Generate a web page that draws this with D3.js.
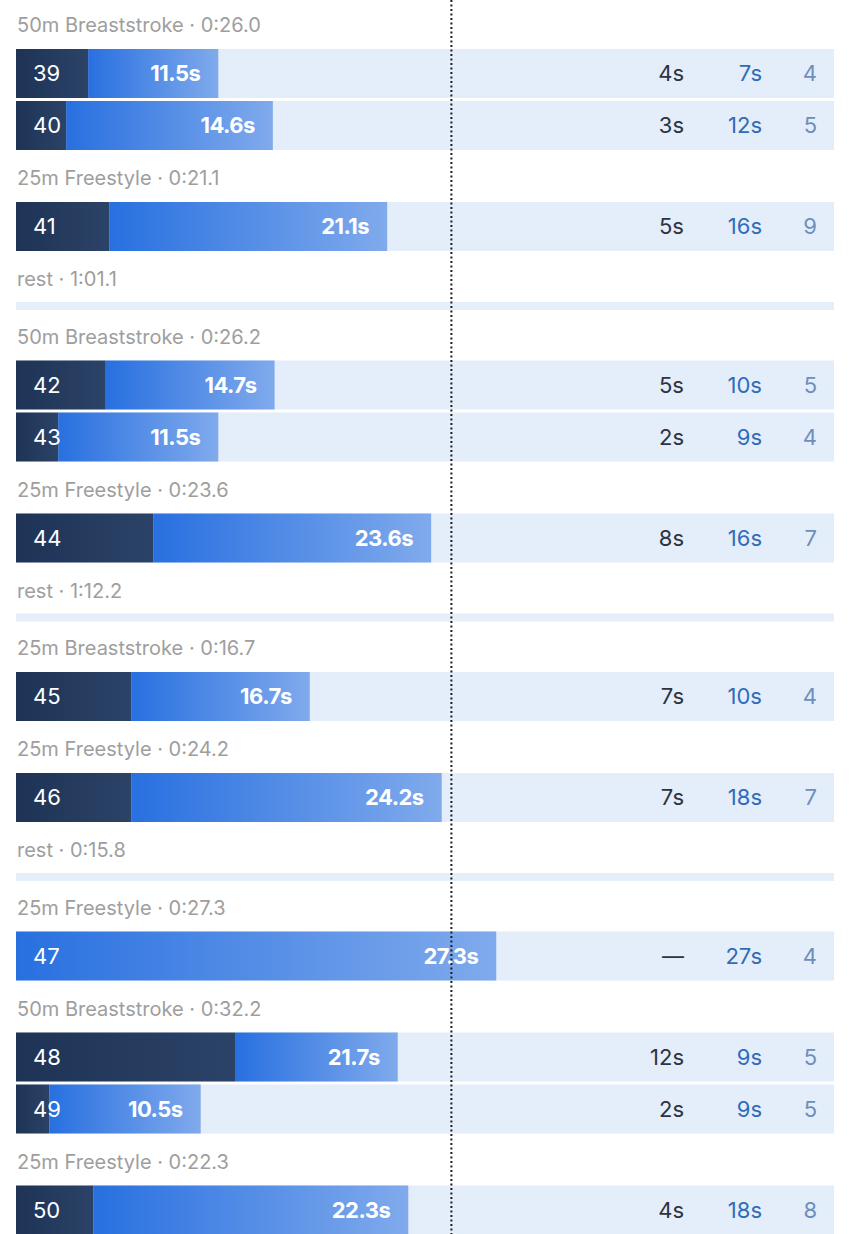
<!DOCTYPE html>
<html>
<head>
<meta charset="utf-8">
<script src="https://cdn.jsdelivr.net/npm/d3@7/dist/d3.min.js"></script>
<style>
  html, body { margin: 0; padding: 0; background: #ffffff; }
  svg { display: block; font-family: Inter, "Noto Sans", sans-serif; }
</style>
</head>
<body>
<svg id="chart" width="850" height="1234"></svg>
<script>
// ---- data ----
const lapIds      = [39, 40, 41, 42, 43, 44, 45, 46, 47, 48, 49, 50];
const lapTotals   = [11.5, 14.6, 21.1, 14.7, 11.5, 23.6, 16.7, 24.2, 27.3, 21.7, 10.5, 22.3];
const lapStart    = [4.1, 2.85, 5.3, 5.1, 2.4, 7.8, 6.55, 6.55, 0, 12.45, 1.9, 4.4];
const lapStrokes  = [4, 5, 9, 5, 4, 7, 4, 7, 4, 5, 5, 8];
const setLabels   = ["50m Breaststroke · 0:26.0", "25m Freestyle · 0:21.1", "50m Breaststroke · 0:26.2",
                     "25m Freestyle · 0:23.6", "25m Breaststroke · 0:16.7", "25m Freestyle · 0:24.2",
                     "25m Freestyle · 0:27.3", "50m Breaststroke · 0:32.2", "25m Freestyle · 0:22.3"];
const setLaps     = [[39, 40], [41], [42, 43], [44], [45], [46], [47], [48, 49], [50]];
const setRests    = [null, "1:01.1", null, "1:12.2", null, "0:15.8", null, null, null];
const refValue    = 24.75;

// ---- layout ----
const W = 850, H = 1234;
const rowH = 49, gap = 3, sepAdv = 8.5;
const x = d3.scaleLinear().domain([0, 46.5]).range([16, 834]);

const svg = d3.select("#chart");
const defs = svg.append("defs");
const gDark = defs.append("linearGradient").attr("id", "gDark");
gDark.append("stop").attr("offset", "0%").attr("stop-color", "#1e3356");
gDark.append("stop").attr("offset", "100%").attr("stop-color", "#2b4367");
const gBlue = defs.append("linearGradient").attr("id", "gBlue");
gBlue.append("stop").attr("offset", "0%").attr("stop-color", "#2870e0");
gBlue.append("stop").attr("offset", "100%").attr("stop-color", "#80aaec");

// build items
const items = [];
let y = 0;
setLabels.forEach((lab, i) => {
  items.push({ type: "header", y: y, text: lab });
  y += rowH;
  setLaps[i].forEach(id => {
    const k = lapIds.indexOf(id);
    items.push({ type: "row", y: y, k: k });
    y += rowH + gap;
  });
  if (setRests[i]) {
    items.push({ type: "rest", y: y, text: "rest · " + setRests[i] });
    y += rowH;
    items.push({ type: "sep", y: y - 1 });
    y += sepAdv;
  }
});

const g = svg.append("g");

// separators
g.selectAll("rect.sep").data(items.filter(d => d.type === "sep")).join("rect")
  .attr("class", "sep")
  .attr("x", x(0)).attr("width", x.range()[1] - x(0))
  .attr("y", d => d.y).attr("height", 8)
  .attr("fill", "#e6eefa");

// headers & rests
g.selectAll("text.lab").data(items.filter(d => d.type === "header" || d.type === "rest")).join("text")
  .attr("class", "lab")
  .attr("x", x(0) + 1).attr("y", d => d.y + 25)
  .attr("dy", "0.35em")
  .attr("font-size", 20).attr("fill", "#9e9e9e")
  .text(d => d.text);

const rows = g.selectAll("g.row").data(items.filter(d => d.type === "row")).join("g")
  .attr("class", "row")
  .attr("transform", d => `translate(0,${d.y})`);

// track
rows.append("rect")
  .attr("x", x(0)).attr("width", x.range()[1] - x(0))
  .attr("height", rowH).attr("fill", "#e4edfa");
// blue segment
rows.append("rect")
  .attr("x", d => x(lapStart[d.k]))
  .attr("width", d => x(lapTotals[d.k]) - x(lapStart[d.k]))
  .attr("height", rowH).attr("fill", "url(#gBlue)");
// dark segment
rows.filter(d => lapStart[d.k] > 0).append("rect")
  .attr("x", x(0))
  .attr("width", d => x(lapStart[d.k]) - x(0))
  .attr("height", rowH).attr("fill", "url(#gDark)");
// lap number
rows.append("text")
  .attr("x", x(0) + 17).attr("y", rowH / 2).attr("dy", "0.36em")
  .attr("font-size", 22).attr("fill", "#ffffff")
  .text(d => lapIds[d.k]);
// value label
rows.append("text")
  .attr("x", d => x(lapTotals[d.k]) - 18).attr("y", rowH / 2).attr("dy", "0.36em")
  .attr("text-anchor", "end")
  .attr("font-size", 22).attr("font-weight", 700).attr("fill", "#ffffff")
  .attr("letter-spacing", "-0.5")
  .text(d => d3.format(".1f")(lapTotals[d.k]) + "s");
// right columns
rows.append("text")
  .attr("x", 684).attr("y", rowH / 2).attr("dy", "0.36em")
  .attr("text-anchor", "end").attr("font-size", 22).attr("fill", "#2e3340")
  .text(d => lapStart[d.k] > 0 ? Math.round(lapStart[d.k]) + "s" : "—");
rows.append("text")
  .attr("x", 762).attr("y", rowH / 2).attr("dy", "0.36em")
  .attr("text-anchor", "end").attr("font-size", 22).attr("fill", "#2f6cb8")
  .text(d => Math.round(lapTotals[d.k] - lapStart[d.k]) + "s");
rows.append("text")
  .attr("x", 817).attr("y", rowH / 2).attr("dy", "0.36em")
  .attr("text-anchor", "end").attr("font-size", 22).attr("fill", "#6e8fbd")
  .text(d => lapStrokes[d.k]);

// reference dotted line
svg.append("line")
  .attr("x1", x(refValue)).attr("x2", x(refValue))
  .attr("y1", 0).attr("y2", H)
  .attr("stroke", "#1e1e1e").attr("stroke-width", 2)
  .attr("stroke-dasharray", "2,2.5");
</script>
</body>
</html>
